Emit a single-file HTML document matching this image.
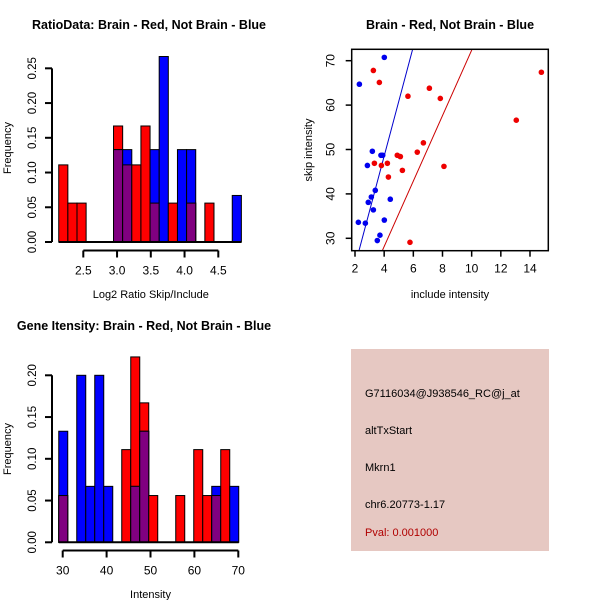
<!DOCTYPE html>
<html><head><meta charset="utf-8"><style>
body{margin:0;background:#fff}
svg{display:block;font-family:"Liberation Sans",sans-serif}
</style></head><body>
<svg id="c" width="600" height="600" xmlns="http://www.w3.org/2000/svg">
<rect width="600" height="600" fill="#fff"/>
<g id="ratio"></g>
<g id="scatter"></g>
<g id="gene"></g>
<g>
<rect x="351" y="349" width="198" height="202" fill="#e6c8c2"/>
<text x="365" y="397" font-size="11" fill="#000">G7116034@J938546_RC@j_at</text>
<text x="365" y="434" font-size="11" fill="#000">altTxStart</text>
<text x="365" y="471" font-size="11" fill="#000">Mkrn1</text>
<text x="365" y="508" font-size="11" fill="#000">chr6.20773-1.17</text>
<text x="365" y="536" font-size="11" fill="#b00000">Pval: 0.001000</text>
</g>
</svg>
<script>
// ---- Ratio histogram data ----
const ratioBinStart = 2.136;
const ratioBinWidth = 0.1353;
const ratioRed  = [0.111,0.056,0.056,0,0,0,0.167,0.111,0.111,0.167,0.056,0,0.056,0,0.056,0,0.056,0,0,0];
const ratioBlue = [0,0,0,0,0,0,0.133,0.133,0,0,0.133,0.267,0,0.133,0.133,0,0,0,0,0.067];
const ratioXTicks = [2.5,3.0,3.5,4.0,4.5];
const ratioYTicks = [0,0.05,0.10,0.15,0.20,0.25];
// ---- Gene intensity histogram data ----
const geneBinStart = 29.1;
const geneBinWidth = 2.05;
const geneRed  = [0.056,0,0,0,0,0,0,0.111,0.222,0.167,0.056,0,0,0.056,0,0.111,0.056,0.056,0.111,0];
const geneBlue = [0.133,0,0.2,0.067,0.2,0.067,0,0,0.067,0.133,0,0,0,0,0,0,0,0.067,0,0.067];
const geneXTicks = [30,40,50,60,70];
const geneYTicks = [0,0.05,0.10,0.15,0.20];
// ---- Scatter data ----
const blueX = [2.30,4.01,3.19,3.78,3.90,2.85,3.39,3.12,2.91,3.26,4.42,2.23,2.71,4.01,3.71,3.53];
const blueY = [64.7,70.75,49.6,48.7,48.7,46.4,40.8,39.3,38.1,36.4,38.8,33.6,33.4,34.1,30.7,29.5];
const redX = [3.26,3.67,5.63,7.10,7.85,14.78,13.06,6.69,6.27,4.90,5.11,3.33,4.22,3.81,4.29,5.25,8.10,5.77];
const redY = [67.8,65.1,62.0,63.8,61.5,67.4,56.6,51.5,49.4,48.7,48.4,46.9,46.9,46.4,43.8,45.3,46.2,29.1];
const blueFit = [-0.77,12.32]; // intercept, slope
const redFit = [-1.33,7.37];
const scatterXTicks = [2,4,6,8,10,12,14];
const scatterYTicks = [30,40,50,60,70];

const NS="http://www.w3.org/2000/svg";
function mk(parent,tag,attrs,txt){const e=document.createElementNS(NS,tag);for(const k in attrs)e.setAttribute(k,attrs[k]);if(txt!==undefined)e.textContent=txt;parent.appendChild(e);return e;}
function fmtY(v){return v.toFixed(2);}

function hist(gid,o){
  const g=document.getElementById(gid);
  const sx=v=>o.x0px+(v-o.x0)*o.pxu;
  const sy=v=>o.basePx-v*o.pyu;
  const t=mk(g,'text',{x:o.titleX,y:o.titleY,'font-size':12.5,'font-weight':'bold','text-anchor':'middle'},o.title);
  
  
  for(let i=0;i<o.red.length;i++){
    const a=sx(o.binStart+i*o.binW), b=sx(o.binStart+(i+1)*o.binW);
    const r=o.red[i], bl=o.blue[i], m=Math.min(r,bl);
    if(r>0){const e=mk(g,'rect',{x:a,y:sy(r),width:b-a,height:sy(0)-sy(r),fill:'#ff0000',stroke:'#000','stroke-width':1});
      
      }
    if(bl>0){const e=mk(g,'rect',{x:a,y:sy(bl),width:b-a,height:sy(0)-sy(bl),fill:'#0000ff',stroke:'#000','stroke-width':1});
      
      }
    if(m>0){const e=mk(g,'rect',{x:a,y:sy(m),width:b-a,height:sy(0)-sy(m),fill:'#800080',stroke:'#000','stroke-width':1});
      
      }
  }
  const bl=mk(g,'line',{x1:sx(o.binStart),x2:sx(o.binStart+o.red.length*o.binW),y1:sy(0),y2:sy(0),stroke:'#000','stroke-width':2});
  
  
  const xa=o.xTicks, ay=o.axisY;
  const xl=mk(g,'line',{x1:sx(xa[0]),x2:sx(xa[xa.length-1]),y1:ay,y2:ay,stroke:'#000','stroke-width':2});
  
  
  xa.forEach(v=>{mk(g,'line',{x1:sx(v),x2:sx(v),y1:ay,y2:ay+7,stroke:'#000','stroke-width':2});
    const tl=mk(g,'text',{x:sx(v),y:ay+24,'font-size':12,'text-anchor':'middle'},o.xFmt(v));
    
    });
  const xt=mk(g,'text',{x:sx((xa[0]+xa[xa.length-1])/2),y:o.xTitleY,'font-size':11,'text-anchor':'middle'},o.xTitle);
  
  
  const ya=o.yTicks;
  const yl=mk(g,'line',{x1:o.axisX,x2:o.axisX,y1:sy(ya[0]),y2:sy(ya[ya.length-1]),stroke:'#000','stroke-width':2});
  
  
  ya.forEach(v=>{mk(g,'line',{x1:o.axisX-7,x2:o.axisX,y1:sy(v),y2:sy(v),stroke:'#000','stroke-width':2});
    const tx=o.axisX-16;
    const tl=mk(g,'text',{x:tx,y:sy(v),'font-size':11.5,'text-anchor':'middle',transform:`rotate(-90 ${tx} ${sy(v)})`},fmtY(v));
    
    });
  const yt=mk(g,'text',{x:11,y:o.yTitleMid,'font-size':11,'text-anchor':'middle',transform:`rotate(-90 11 ${o.yTitleMid})`},'Frequency');
  
  
}

hist('ratio',{title:'RatioData: Brain - Red, Not Brain - Blue',titleX:149,titleY:29,
  red:ratioRed,blue:ratioBlue,binStart:ratioBinStart,binW:ratioBinWidth,
  x0:2.5,x0px:83.3,pxu:67.5,basePx:242,pyu:694.7,axisY:250.5,axisX:52,
  xTicks:ratioXTicks,yTicks:ratioYTicks,xFmt:v=>v.toFixed(1),xTitle:'Log2 Ratio Skip/Include',xTitleY:298,yTitleMid:148});
hist('gene',{title:'Gene Itensity: Brain - Red, Not Brain - Blue',titleX:144,titleY:330,
  red:geneRed,blue:geneBlue,binStart:geneBinStart,binW:geneBinWidth,
  x0:30,x0px:62.7,pxu:4.39,basePx:542.3,pyu:835,axisY:550.5,axisX:52,
  xTicks:geneXTicks,yTicks:geneYTicks,xFmt:v=>String(v),xTitle:'Intensity',xTitleY:598,yTitleMid:449});

(function(){
  const g=document.getElementById('scatter');
  const L=351.7,R=548.3,T=49.3,B=250.7;
  const sx=v=>355+(v-2)*14.583;
  const sy=v=>60.7+(70-v)*4.44;
  const xmin=2+(L-355)/14.583, xmax=2+(R-355)/14.583, ymin=70-(B-60.7)/4.44, ymax=70-(T-60.7)/4.44;
  const t=mk(g,'text',{x:450,y:29,'font-size':12.5,'font-weight':'bold','text-anchor':'middle'},'Brain - Red, Not Brain - Blue');
  
  
  mk(g,'defs',{}).innerHTML='<clipPath id="pc"><rect x="'+L+'" y="'+T+'" width="'+(R-L)+'" height="'+(B-T)+'"/></clipPath>';
  function fit(f,col,name){
    const y=x=>f[0]+f[1]*x;
    const xa=Math.max(xmin,(ymin-f[0])/f[1]), xb=Math.min(xmax,(ymax-f[0])/f[1]);
    const e=mk(g,'line',{x1:sx(xa),y1:sy(y(xa)),x2:sx(xb),y2:sy(y(xb)),stroke:col,'stroke-width':1,'clip-path':'url(#pc)'});
    
    
  }
  fit(blueFit,'#0000cc','blue-fit-line');
  fit(redFit,'#cc0000','red-fit-line');
  blueX.forEach((x,i)=>{const e=mk(g,'circle',{cx:sx(x),cy:sy(blueY[i]),r:2.8,fill:'#0000ee'});
    
    });
  redX.forEach((x,i)=>{const e=mk(g,'circle',{cx:sx(x),cy:sy(redY[i]),r:2.8,fill:'#ee0000'});
    
    });
  const box=mk(g,'rect',{x:L,y:T,width:R-L,height:B-T,fill:'none',stroke:'#000','stroke-width':1.5});
  
  
  scatterXTicks.forEach(v=>{mk(g,'line',{x1:sx(v),x2:sx(v),y1:B,y2:B+6,stroke:'#000','stroke-width':1.5});
    const tl=mk(g,'text',{x:sx(v),y:B+22,'font-size':12,'text-anchor':'middle'},String(v));
    
    });
  scatterYTicks.forEach(v=>{mk(g,'line',{x1:L-6,x2:L,y1:sy(v),y2:sy(v),stroke:'#000','stroke-width':1.5});
    const tx=L-17;
    const tl=mk(g,'text',{x:tx,y:sy(v),'font-size':12,'text-anchor':'middle',transform:`rotate(-90 ${tx} ${sy(v)})`},String(v));
    
    });
  const xt=mk(g,'text',{x:450,y:298,'font-size':11,'text-anchor':'middle'},'include intensity');
  
  
  const yt=mk(g,'text',{x:312,y:150,'font-size':11,'text-anchor':'middle',transform:'rotate(-90 312 150)'},'skip intensity');
  
  
})();
</script>
</body></html>
